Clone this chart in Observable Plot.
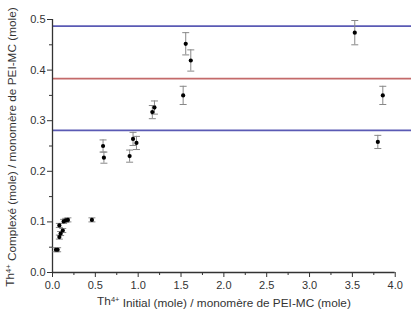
<!DOCTYPE html>
<html>
<head>
<meta charset="utf-8">
<script src="https://cdn.jsdelivr.net/npm/d3@7"></script>
<script src="https://cdn.jsdelivr.net/npm/@observablehq/plot@0.6"></script>
<style>
  html, body { margin: 0; padding: 0; background: #fff; }
  #chart svg { display: block; font-family: "Liberation Sans", Arial, sans-serif; }
</style>
</head>
<body>
<div id="chart"></div>
<script>
// Th4+ initial ratio vs. complexed ratio, with standard deviations
const initialRatio = [0.04, 0.06, 0.08, 0.095, 0.08, 0.12, 0.13, 0.155, 0.18, 0.46,
  0.59, 0.60, 0.90, 0.94, 0.98, 1.165, 1.19, 1.525, 1.555, 1.614, 3.528, 3.855, 3.797];
const complexedRatio = [0.045, 0.045, 0.070, 0.077, 0.093, 0.083, 0.101, 0.103, 0.104, 0.104,
  0.250, 0.227, 0.230, 0.264, 0.256, 0.317, 0.326, 0.350, 0.452, 0.419, 0.474, 0.350, 0.258];
const stdDev = [0.004, 0.004, 0.004, 0.004, 0.004, 0.004, 0.004, 0.004, 0.004, 0.004,
  0.012, 0.011, 0.012, 0.013, 0.013, 0.013, 0.013, 0.018, 0.022, 0.021, 0.024, 0.018, 0.013];

// Horizontal reference levels (mean and ± bounds)
const refLevels = [0.487, 0.383, 0.281];
const refColors = ["#5a5ab4", "#c46a6a", "#5a5ab4"];

const xMajor = [0, 0.5, 1, 1.5, 2, 2.5, 3, 3.5, 4];
const xMinor = [0.25, 0.75, 1.25, 1.75, 2.25, 2.75, 3.25, 3.75];
const yMajor = [0, 0.1, 0.2, 0.3, 0.4, 0.5];
const yMinor = [0.05, 0.15, 0.25, 0.35, 0.45];

const points = initialRatio.map((x, i) => ({x, y: complexedRatio[i], e: stdDev[i]}));
const refs = refLevels.map((y, i) => ({y, color: refColors[i]}));

const cap = {draw(ctx) { ctx.moveTo(-3.5, 0); ctx.lineTo(3.5, 0); }};
const ink = "#333";

const chart = Plot.plot({
  width: 411,
  height: 312,
  marginLeft: 52,
  marginRight: 0,
  marginTop: 19,
  marginBottom: 40,
  style: {fontFamily: "Liberation Sans, Arial, sans-serif", fontSize: "11px", color: ink, background: "#fff"},
  x: {domain: [0, 4.19], label: null},
  y: {domain: [0, 0.5], label: null},
  marks: [
    Plot.ruleY(refs, {y: "y", stroke: "color", strokeWidth: 1.8}),
    Plot.ruleY([0], {x1: 0, x2: 4, stroke: ink, strokeWidth: 1.3}),
    Plot.ruleX([0], {y1: 0, y2: 0.5, stroke: ink, strokeWidth: 1.3}),
    Plot.axisX(xMajor, {tickSize: 5, tickPadding: 4, tickFormat: d3.format(".1f"), stroke: ink, fill: ink, fontSize: 11}),
    Plot.axisX(xMinor, {tickSize: 3, tickFormat: () => "", stroke: ink}),
    Plot.axisY(yMajor, {tickSize: 5, tickPadding: 2, tickFormat: d3.format(".1f"), stroke: ink, fill: ink, fontSize: 11}),
    Plot.axisY(yMinor, {tickSize: 3, tickFormat: () => "", stroke: ink}),
    Plot.ruleX(points, {x: "x", y1: d => d.y - d.e, y2: d => d.y + d.e, stroke: "#888", strokeWidth: 1}),
    Plot.dot(points, {x: "x", y: d => d.y - d.e, symbol: cap, stroke: "#888", fill: "none", strokeWidth: 1}),
    Plot.dot(points, {x: "x", y: d => d.y + d.e, symbol: cap, stroke: "#888", fill: "none", strokeWidth: 1}),
    Plot.dot(points, {x: "x", y: "y", r: 2.1, fill: "#000", stroke: "none"})
  ]
});

document.getElementById("chart").appendChild(chart);

// Axis titles with Th4+ superscripts
const svg = d3.select(chart);
function title(sel, rest) {
  sel.append("tspan").text("Th");
  sel.append("tspan").attr("dy", "-0.45em").attr("font-size", "7.5px").text("4+");
  sel.append("tspan").attr("dy", "0.45em").text(rest);
}
svg.append("text")
  .attr("x", 224).attr("y", 305)
  .attr("text-anchor", "middle").attr("font-size", "11.8px").attr("fill", ink)
  .call(title, " Initial (mole) / monomère de PEI-MC (mole)");
svg.append("text")
  .attr("transform", "translate(14,147) rotate(-90)")
  .attr("text-anchor", "middle").attr("font-size", "11.8px").attr("fill", ink)
  .call(title, " Complexé (mole) / monomère de PEI-MC (mole)");
</script>
</body>
</html>
